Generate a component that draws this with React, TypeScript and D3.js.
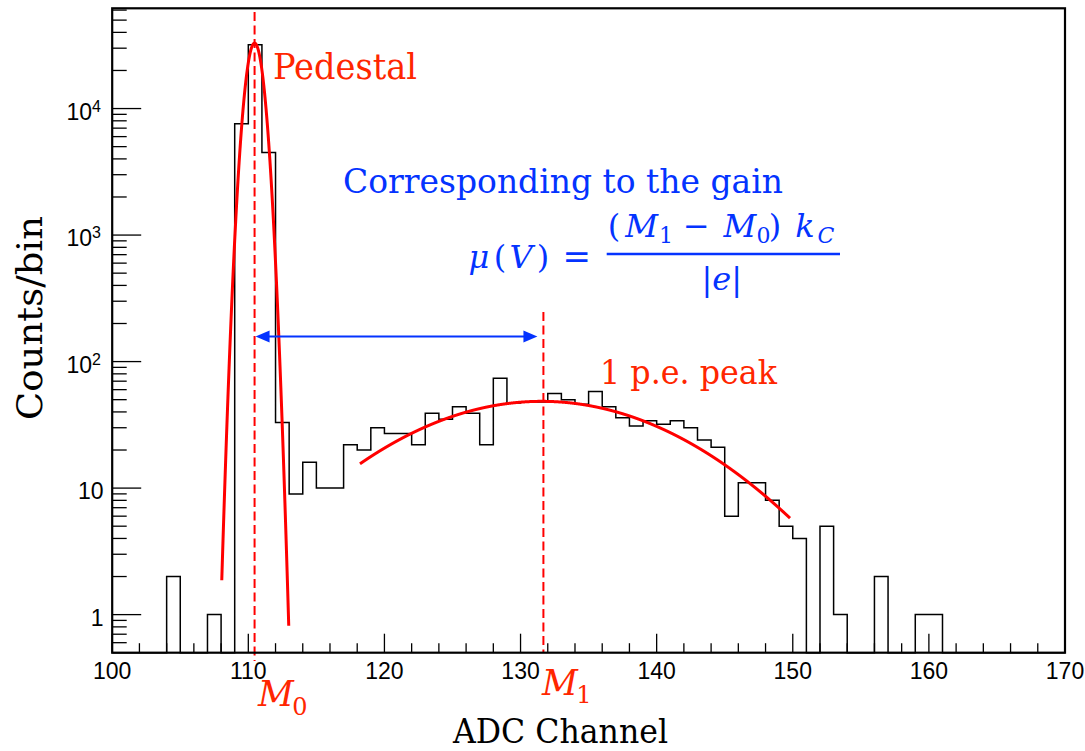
import React from 'react';
import * as d3 from 'd3';

// ---- data ----
const binLow = 100;
const binWidth = 1;
const binCounts = [
  0, 0, 0, 0, 2, 0, 0, 1, 0, 7570,
  32000, 4500, 33, 9, 16, 10, 10, 22, 20, 30,
  27, 27, 22, 39, 35, 44, 39, 22, 74, 47,
  48, 48, 56, 50, 46, 58, 44, 36, 31, 34,
  32, 34, 30, 24, 21, 6, 11, 11, 8, 5,
  4, 0, 5, 1, 0, 0, 2, 0, 0, 1,
  1, 0, 0, 0, 0, 0, 0, 0, 0, 0,
];
const xDomain = [100, 170];
const yDomain = [0.5, 6.2e4];
const xMajorTicks = [100, 110, 120, 130, 140, 150, 160, 170];
const yMajorTicks = [1, 10, 100, 1000, 10000];
// Gaussian fit parameters: [mean, sigma, amplitude, rangeFrom, rangeTo]
const pedestalFit = [110.46, 0.545, 32900, 108.05, 112.97];
const speFit = [131.55, 8.85, 48.5, 118.2, 149.8];
const m0 = 110.46;
const m1 = 131.68;

const W = 1085;
const H = 751;
const L = 112.2, R = 1065, T = 8.3, B = 652.7;

const sans = "'Liberation Sans', Arial, Helvetica, sans-serif";
const serif = "'DejaVu Serif', serif";
const RED = '#ff0000';
const TRED = '#ff2600';
const BLUE = '#0433ff';

export default function App() {
  const x = d3.scaleLinear().domain(xDomain).range([L, R]);
  const y = d3.scaleLog().domain(yDomain).range([B, T]);

  // histogram outline
  let hist = `M${x(binLow)},${B}`;
  binCounts.forEach((c, i) => {
    const yy = c > 0 ? y(c) : B;
    hist += `L${x(binLow + i * binWidth)},${yy}L${x(binLow + (i + 1) * binWidth)},${yy}`;
  });
  hist += `L${x(xDomain[1])},${B}`;

  const gauss = (p: number[]) => (v: number) =>
    p[2] * Math.exp(-((v - p[0]) ** 2) / (2 * p[1] * p[1]));
  const fitPath = (p: number[]) => {
    const f = gauss(p);
    const xs = d3.range(p[3], p[4], 0.005).concat([p[4]]);
    return d3
      .line<number>()
      .x((v) => x(v))
      .y((v) => y(f(v)))(xs) as string;
  };

  const xMinor = d3.range(xDomain[0], xDomain[1] + 0.001, 2).filter((v) => v % 10 !== 0);
  const yMinor: number[] = [];
  for (let e = -1; e <= 4; e++) {
    for (let k = 2; k <= 9; k++) {
      const v = k * Math.pow(10, e);
      if (v > yDomain[0] && v < yDomain[1]) yMinor.push(v);
    }
  }

  const arrowY = 336.5;
  const ax0 = x(m0) + 1;
  const ax1 = x(m1) - 6;

  return (
    <svg
      width={W}
      height={H}
      style={{ position: 'absolute', left: 0, top: 0, background: '#fff' }}
    >
      <rect x={0} y={0} width={W} height={H} fill="#fff" />

      {/* ticks */}
      <g stroke="#000" strokeWidth={1.3}>
        {xMajorTicks.map((v) => (
          <line key={'xM' + v} x1={x(v)} x2={x(v)} y1={B} y2={B - 19} />
        ))}
        {xMinor.map((v) => (
          <line key={'xm' + v} x1={x(v)} x2={x(v)} y1={B} y2={B - 9.5} />
        ))}
        {yMajorTicks.map((v) => (
          <line key={'yM' + v} x1={L} x2={L + 29} y1={y(v)} y2={y(v)} />
        ))}
        {yMinor.map((v) => (
          <line key={'ym' + v} x1={L} x2={L + 14.5} y1={y(v)} y2={y(v)} />
        ))}
      </g>

      {/* histogram */}
      <path d={hist} fill="none" stroke="#000" strokeWidth={1.5} />

      {/* fits */}
      <path d={fitPath(pedestalFit)} fill="none" stroke={RED} strokeWidth={3} />
      <path d={fitPath(speFit)} fill="none" stroke={RED} strokeWidth={3} />

      {/* dashed markers */}
      <line x1={x(m0)} x2={x(m0)} y1={12} y2={661} stroke={RED} strokeWidth={2} strokeDasharray="9,4.5" />
      <line x1={x(m1)} x2={x(m1)} y1={312} y2={653} stroke={RED} strokeWidth={2} strokeDasharray="9,4.5" />

      {/* frame */}
      <rect x={L} y={T} width={R - L} height={B - T} fill="none" stroke="#000" strokeWidth={2.2} />

      {/* x tick labels */}
      <g fontFamily={sans} fontSize={23} fill="#000" textAnchor="middle">
        {xMajorTicks.map((v) => (
          <text key={'xl' + v} x={x(v)} y={679}>
            {v}
          </text>
        ))}
      </g>

      {/* y tick labels */}
      <g fontFamily={sans} fontSize={23} fill="#000" textAnchor="end">
        {yMajorTicks.map((v) => {
          const e = Math.round(Math.log10(v));
          if (e < 2)
            return (
              <text key={'yl' + v} x={103.5} y={y(v) + 11}>
                {String(v)}
              </text>
            );
          return (
            <text key={'yl' + v} x={101} y={y(v) + 11}>
              <tspan>10</tspan>
              <tspan fontSize={16} dy={-8}>
                {e}
              </tspan>
            </text>
          );
        })}
      </g>

      {/* axis titles */}
      <text x={560.5} y={743} fontFamily={serif} fontSize={34} textAnchor="middle" textLength={215} lengthAdjust="spacingAndGlyphs">
        ADC Channel
      </text>
      <text
        transform="translate(41.5,318) rotate(-90)"
        fontFamily={serif}
        fontSize={36}
        textAnchor="middle"
        textLength={204}
        lengthAdjust="spacingAndGlyphs"
      >
        Counts/bin
      </text>

      {/* M0 / M1 labels */}
      <g fill={TRED} fontFamily={serif} fontStyle="italic" textAnchor="middle">
        <text x={276} y={706} fontSize={35}>M</text>
        <text x={300} y={715} fontSize={24} fontStyle="normal">0</text>
        <text x={560} y={695} fontSize={35}>M</text>
        <text x={584} y={703} fontSize={24} fontStyle="normal">1</text>
      </g>

      {/* annotations */}
      <text x={273} y={79} fontFamily={serif} fontSize={35} fill={TRED} textLength={144} lengthAdjust="spacingAndGlyphs">
        Pedestal
      </text>
      <text x={600} y={383.5} fontFamily={serif} fontSize={33} fill={TRED} textLength={177} lengthAdjust="spacingAndGlyphs">
        1 p.e. peak
      </text>
      <text x={343} y={192.7} fontFamily={serif} fontSize={34} fill={BLUE} textLength={440} lengthAdjust="spacingAndGlyphs">
        Corresponding to the gain
      </text>

      {/* formula */}
      <g fill={BLUE} fontFamily={serif} fontSize={32} textAnchor="middle">
        <text x={479} y={268} fontStyle="italic">μ</text>
        <text x={500} y={268}>(</text>
        <text x={521} y={268} fontStyle="italic">V</text>
        <text x={543} y={268}>)</text>
        <text x={576.7} y={268} fontSize={34}>=</text>
        <text x={614} y={237}>(</text>
        <text x={641.7} y={237} fontStyle="italic">M</text>
        <text x={666} y={243} fontSize={22}>1</text>
        <text x={696.5} y={237}>−</text>
        <text x={740} y={237} fontStyle="italic">M</text>
        <text x={763.5} y={243} fontSize={22}>0</text>
        <text x={775} y={237}>)</text>
        <text x={805} y={237} fontStyle="italic">k</text>
        <text x={826} y={243} fontSize={22} fontStyle="italic">C</text>
        <text x={721.7} y={290}>|<tspan fontStyle="italic">e</tspan>|</text>
      </g>
      <line x1={606.7} x2={840} y1={254} y2={254} stroke={BLUE} strokeWidth={2.6} />

      {/* double arrow */}
      <line x1={ax0 + 8} x2={ax1 - 8} y1={arrowY} y2={arrowY} stroke={BLUE} strokeWidth={2} />
      <path
        d={`M${ax0},${arrowY}L${ax0 + 14},${arrowY - 6}L${ax0 + 14},${arrowY + 6}Z`}
        fill={BLUE}
      />
      <path
        d={`M${ax1},${arrowY}L${ax1 - 14},${arrowY - 6}L${ax1 - 14},${arrowY + 6}Z`}
        fill={BLUE}
      />
    </svg>
  );
}
